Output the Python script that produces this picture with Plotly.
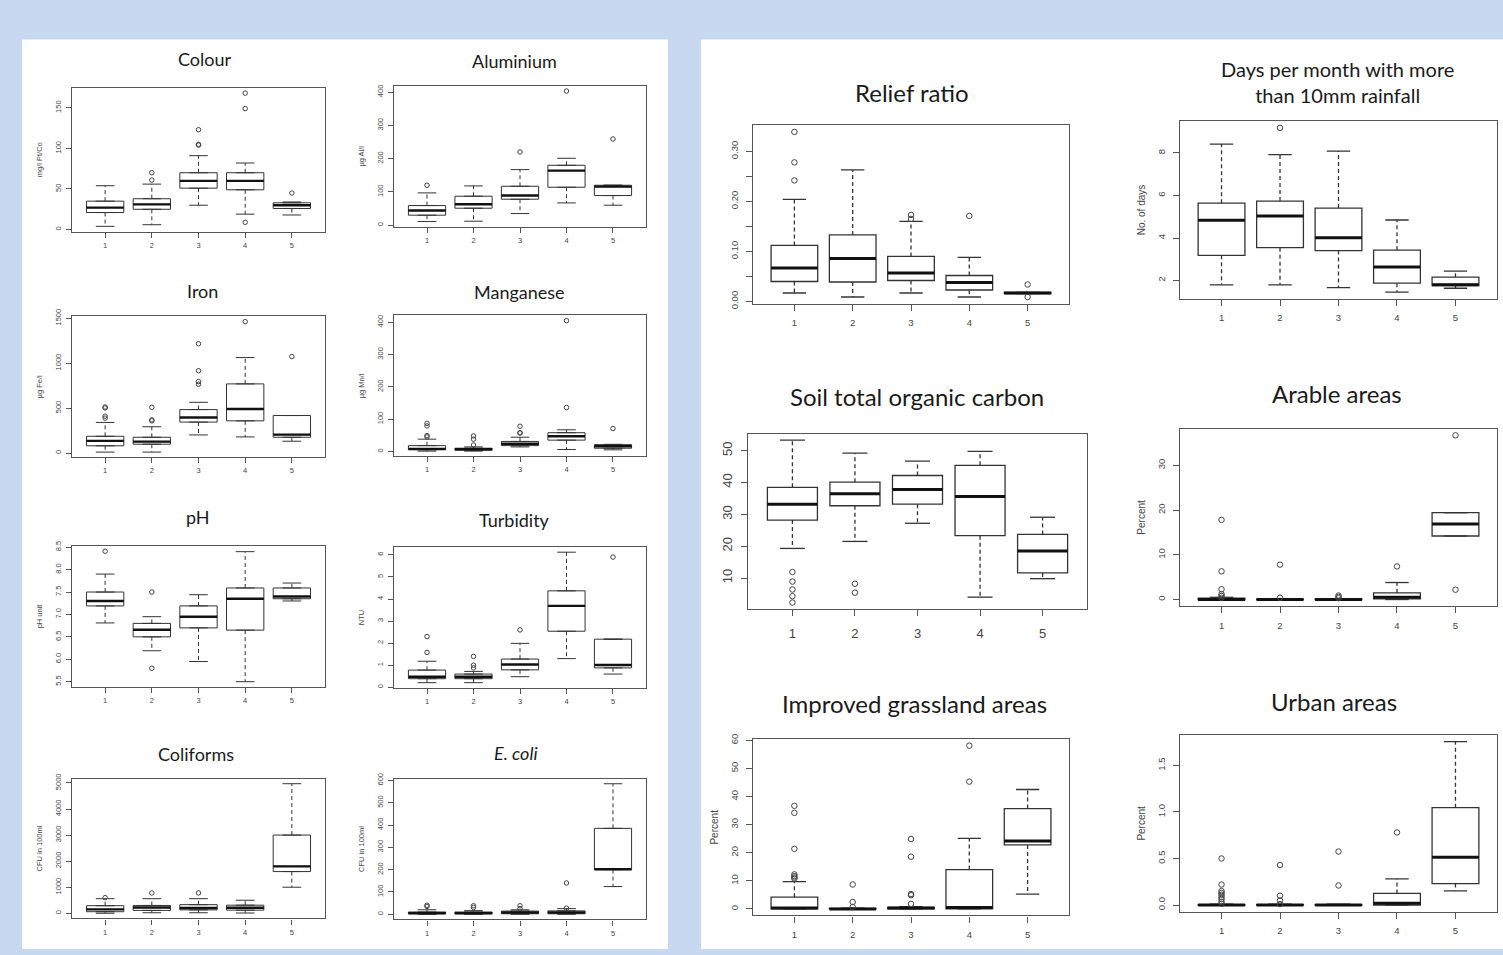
import plotly.graph_objects as go

W, H = 1503, 955
BG = "#c6d9f1"
groups = [1, 2, 3, 4, 5]

# ---------------- data ----------------
colour_lo  = [4, 6, 30, 19, 18]
colour_q1  = [21, 25, 51, 49, 26]
colour_med = [27, 31, 60, 60, 30]
colour_q3  = [35, 38, 70, 70, 33]
colour_hi  = [54, 56, 91, 82, 34]
colour_out = [[], [70, 61], [123, 105, 104], [168, 149, 9], [45]]
colour_ticks = [0, 50, 100, 150]

alu_lo  = [11, 12, 35, 67, 60]
alu_q1  = [30, 51, 78, 114, 89]
alu_med = [44, 63, 89, 164, 116]
alu_q3  = [59, 87, 117, 180, 120]
alu_hi  = [97, 118, 167, 201, 120]
alu_out = [[120], [], [220], [403], [259]]
alu_ticks = [0, 100, 200, 300, 400]

iron_lo  = [11, 11, 202, 180, 132]
iron_q1  = [81, 99, 345, 359, 176]
iron_med = [136, 128, 396, 491, 205]
iron_q3  = [187, 176, 484, 770, 418]
iron_hi  = [341, 293, 565, 1063, 418]
iron_out = [[513, 502, 411, 389], [510, 370, 359], [1217, 917, 796, 766], [1463], [1074]]
iron_ticks = [0, 500, 1000, 1500]

mn_lo  = [1, 1, 14, 6, 5]
mn_q1  = [5, 4, 18, 35, 10]
mn_med = [8, 7, 24, 47, 16]
mn_q3  = [18, 10, 31, 58, 21]
mn_hi  = [38, 14, 44, 67, 22]
mn_out = [[87, 79, 49, 45], [48, 38, 20], [78, 58, 57], [405, 136], [71]]
mn_ticks = [0, 100, 200, 300, 400]

ph_lo  = [6.81, 6.19, 5.95, 5.50, 7.30]
ph_q1  = [7.19, 6.50, 6.70, 6.65, 7.35]
ph_med = [7.30, 6.66, 6.95, 7.35, 7.40]
ph_q3  = [7.50, 6.80, 7.19, 7.59, 7.59]
ph_hi  = [7.90, 6.95, 7.44, 8.40, 7.70]
ph_out = [[8.41], [7.50, 5.80], [], [], []]
ph_ticks = [5.5, 6.0, 6.5, 7.0, 7.5, 8.0, 8.5]

turb_lo  = [0.21, 0.21, 0.48, 1.30, 0.60]
turb_q1  = [0.39, 0.39, 0.79, 2.54, 0.88]
turb_med = [0.48, 0.48, 1.03, 3.69, 1.01]
turb_q3  = [0.78, 0.60, 1.28, 4.37, 2.18]
turb_hi  = [1.18, 0.72, 1.99, 6.12, 2.18]
turb_out = [[2.30, 1.58], [1.40, 1.00, 0.88], [2.60], [], [5.90]]
turb_ticks = [0, 1, 2, 3, 4, 5, 6]

coli_lo  = [0, 20, 20, 10, 1000]
coli_q1  = [60, 110, 130, 120, 1600]
coli_med = [150, 220, 200, 210, 1800]
coli_q3  = [290, 300, 330, 310, 3000]
coli_hi  = [560, 560, 560, 500, 4970]
coli_out = [[600], [780], [780], [], []]
coli_ticks = [0, 1000, 2000, 3000, 4000, 5000]

ecoli_lo  = [0, 0, 0, 0, 124]
ecoli_q1  = [1, 1, 2, 2, 200]
ecoli_med = [5, 5, 8, 8, 202]
ecoli_q3  = [10, 10, 14, 15, 385]
ecoli_hi  = [20, 16, 20, 25, 585]
ecoli_out = [[40, 35], [38, 30], [38, 25], [140, 27], []]
ecoli_ticks = [0, 100, 200, 300, 400, 500, 600]

relief_lo  = [0.017, 0.009, 0.017, 0.009, 0.016]
relief_q1  = [0.040, 0.039, 0.042, 0.023, 0.016]
relief_med = [0.067, 0.086, 0.057, 0.038, 0.017]
relief_q3  = [0.112, 0.133, 0.090, 0.052, 0.018]
relief_hi  = [0.204, 0.263, 0.160, 0.088, 0.018]
relief_out = [[0.339, 0.278, 0.242], [], [0.173, 0.165], [0.171], [0.034, 0.009]]
relief_ticks = [0.00, 0.05, 0.10, 0.15, 0.20, 0.25, 0.30]
relief_ticktext = ["0.00", "", "0.10", "", "0.20", "", "0.30"]

days_lo  = [1.80, 1.80, 1.67, 1.46, 1.64]
days_q1  = [3.19, 3.55, 3.41, 1.88, 1.77]
days_med = [4.84, 5.04, 4.02, 2.64, 1.80]
days_q3  = [5.64, 5.74, 5.41, 3.43, 2.16]
days_hi  = [8.42, 7.92, 8.09, 4.85, 2.45]
days_out = [[], [9.18], [], [], []]
days_ticks = [2, 4, 6, 8]

soil_lo  = [19.3, 21.5, 27.2, 4.0, 9.8]
soil_q1  = [28.2, 32.7, 33.2, 23.3, 11.6]
soil_med = [33.2, 36.5, 37.8, 35.6, 18.5]
soil_q3  = [38.5, 40.1, 42.2, 45.4, 23.7]
soil_hi  = [53.3, 49.2, 46.7, 49.8, 29.1]
soil_out = [[11.9, 8.9, 6.4, 4.3, 2.3], [8.2, 5.4], [], [], []]
soil_ticks = [10, 20, 30, 40, 50]

arable_lo  = [0, 0, 0, 0, 14.2]
arable_q1  = [0, 0, 0, 0.15, 14.2]
arable_med = [0, 0, 0, 0.5, 16.9]
arable_q3  = [0.3, 0.1, 0.1, 1.5, 19.4]
arable_hi  = [0.5, 0.2, 0.2, 3.8, 19.4]
arable_out = [[17.8, 6.3, 2.3, 1.2, 0.8, 0.4], [7.8, 0.4], [0.9, 0.6, 0.3], [7.4], [36.7, 2.2]]
arable_ticks = [0, 10, 20, 30]

grass_lo  = [0, 0, 0, 0, 5.3]
grass_q1  = [0, 0, 0, 0.05, 22.8]
grass_med = [0.35, 0, 0.3, 0.5, 24.2]
grass_q3  = [4.2, 0.2, 0.6, 14.0, 35.7]
grass_hi  = [9.7, 0.3, 0.8, 25.1, 42.5]
grass_out = [[36.7, 34.2, 21.4, 12.3, 11.7, 11.2, 10.8], [8.7, 2.5, 0.7], [24.9, 18.6, 5.3, 4.9, 1.8], [58.1, 45.3], []]
grass_ticks = [0, 10, 20, 30, 40, 50, 60]

urban_lo  = [0, 0, 0, 0, 0.152]
urban_q1  = [0, 0, 0, 0, 0.23]
urban_med = [0, 0, 0, 0.018, 0.514]
urban_q3  = [0.005, 0.005, 0.005, 0.125, 1.046]
urban_hi  = [0.01, 0.01, 0.01, 0.28, 1.755]
urban_out = [[0.50, 0.22, 0.15, 0.13, 0.11, 0.085, 0.064, 0.035, 0.014], [0.43, 0.10, 0.05, 0.01], [0.575, 0.21], [0.78], []]
urban_ticks = [0.0, 0.5, 1.0, 1.5]

DATA = {
    "colour": (colour_lo, colour_q1, colour_med, colour_q3, colour_hi, colour_out, colour_ticks, None),
    "alu": (alu_lo, alu_q1, alu_med, alu_q3, alu_hi, alu_out, alu_ticks, None),
    "iron": (iron_lo, iron_q1, iron_med, iron_q3, iron_hi, iron_out, iron_ticks, None),
    "mn": (mn_lo, mn_q1, mn_med, mn_q3, mn_hi, mn_out, mn_ticks, None),
    "ph": (ph_lo, ph_q1, ph_med, ph_q3, ph_hi, ph_out, ph_ticks, [f"{v:.1f}" for v in ph_ticks]),
    "turb": (turb_lo, turb_q1, turb_med, turb_q3, turb_hi, turb_out, turb_ticks, None),
    "coli": (coli_lo, coli_q1, coli_med, coli_q3, coli_hi, coli_out, coli_ticks, None),
    "ecoli": (ecoli_lo, ecoli_q1, ecoli_med, ecoli_q3, ecoli_hi, ecoli_out, ecoli_ticks, None),
    "relief": (relief_lo, relief_q1, relief_med, relief_q3, relief_hi, relief_out, relief_ticks, relief_ticktext),
    "days": (days_lo, days_q1, days_med, days_q3, days_hi, days_out, days_ticks, None),
    "soil": (soil_lo, soil_q1, soil_med, soil_q3, soil_hi, soil_out, soil_ticks, None),
    "arable": (arable_lo, arable_q1, arable_med, arable_q3, arable_hi, arable_out, arable_ticks, None),
    "grass": (grass_lo, grass_q1, grass_med, grass_q3, grass_hi, grass_out, grass_ticks, None),
    "urban": (urban_lo, urban_q1, urban_med, urban_q3, urban_hi, urban_out, urban_ticks, [f"{v:.1f}" for v in urban_ticks]),
}

# ---------------- layout specs (pixel frames) ----------------
charts = [
    dict(key="colour", title="Colour", ytitle="mg/l Pt/Co", frame=(72, 325, 81, 227), tpos=(205, 52), tsize=18, side="L"),
    dict(key="alu", title="Aluminium", ytitle="µg Al/l", frame=(394, 646, 79, 222), tpos=(514, 54), tsize=18, side="L"),
    dict(key="iron", title="Iron", ytitle="µg Fe/l", frame=(72, 325, 313, 456), tpos=(202, 287), tsize=18, side="L"),
    dict(key="mn", title="Manganese", ytitle="µg Mn/l", frame=(394, 646, 312, 455), tpos=(519, 288), tsize=18, side="L"),
    dict(key="ph", title="pH", ytitle="pH unit", frame=(72, 325, 546, 689), tpos=(198, 517), tsize=18, side="L"),
    dict(key="turb", title="Turbidity", ytitle="NTU", frame=(394, 646, 547, 690), tpos=(514, 520), tsize=18, side="L"),
    dict(key="coli", title="Coliforms", ytitle="CFU in 100ml", frame=(72, 325, 782, 924), tpos=(196, 757), tsize=18, side="L"),
    dict(key="ecoli", title="<i>E. coli</i>", ytitle="CFU in 100ml", frame=(394, 646, 782, 925), tpos=(516, 756), tsize=18, side="L"),
    dict(key="relief", title="Relief ratio", ytitle="", frame=(753, 1069, 119, 300), tpos=(912, 86), tsize=24, side="R"),
    dict(key="days", title="Days per month with more<br>than 10mm rainfall", ytitle="No. of days", frame=(1180, 1497, 115, 295), tpos=(1337, 75), tsize=20, side="R"),
    dict(key="soil", title="Soil total organic carbon", ytitle="", frame=(748, 1087, 432, 610), tpos=(917, 394), tsize=24, side="S"),
    dict(key="arable", title="Arable areas", ytitle="Percent", frame=(1180, 1497, 427, 607), tpos=(1337, 391), tsize=24, side="R"),
    dict(key="grass", title="Improved grassland areas", ytitle="Percent", frame=(753, 1069, 742, 921), tpos=(914, 706), tsize=24, side="R"),
    dict(key="urban", title="Urban areas", ytitle="Percent", frame=(1180, 1497, 738, 917), tpos=(1334, 704), tsize=24, side="R"),
]

BOXW = 0.8
CAPW = 0.4
LINE = "#333333"
AXC = "#555555"
TICKFONT = "Liberation Sans, Arial, sans-serif"
TITLEFONT = "Lato, Open Sans, sans-serif"

fig = go.Figure()
annotations = []
layout_axes = {}

for i, ch in enumerate(charts, start=1):
    lo, q1, med, q3, hi, out, ticks, ticktext = DATA[ch["key"]]
    xa = "x" if i == 1 else f"x{i}"
    ya = "y" if i == 1 else f"y{i}"
    side = ch["side"]
    lw = 1.0 if side == "L" else 1.3
    mw = 2.4 if side == "L" else 3.0
    msize = 4.5 if side == "L" else 5.5
    tfs = 7.5 if side == "L" else (13 if side == "S" else 9.5)

    wx, wy, cx, cy, mx, my = [], [], [], [], [], []
    for g, a, b, m, c, d in zip(groups, lo, q1, med, q3, hi):
        wx += [g, g, None, g, g, None]
        wy += [c, d, None, b, a, None]
        cx += [g - CAPW / 2, g + CAPW / 2, None, g - CAPW / 2, g + CAPW / 2, None]
        cy += [d, d, None, a, a, None]
        mx += [g - BOXW / 2, g + BOXW / 2, None]
        my += [m, m, None]
    fig.add_trace(go.Scatter(x=wx, y=wy, mode="lines", line=dict(color=LINE, width=lw, dash="4px,3px"),
                             xaxis=xa, yaxis=ya, showlegend=False, hoverinfo="skip"))
    fig.add_trace(go.Box(x=groups, q1=q1, median=med, q3=q3, lowerfence=q1, upperfence=q3,
                         width=BOXW, fillcolor="white", line=dict(color=LINE, width=lw),
                         boxpoints=False, xaxis=xa, yaxis=ya, showlegend=False, hoverinfo="skip"))
    fig.add_trace(go.Scatter(x=cx, y=cy, mode="lines", line=dict(color=LINE, width=lw),
                             xaxis=xa, yaxis=ya, showlegend=False, hoverinfo="skip"))
    fig.add_trace(go.Scatter(x=mx, y=my, mode="lines", line=dict(color="#111111", width=mw),
                             xaxis=xa, yaxis=ya, showlegend=False, hoverinfo="skip"))
    ox = [g for g, o in zip(groups, out) for _ in o]
    oy = [v for o in out for v in o]
    fig.add_trace(go.Scatter(x=ox, y=oy, mode="markers",
                             marker=dict(symbol="circle-open", size=msize, color="#444444", line=dict(width=1)),
                             xaxis=xa, yaxis=ya, showlegend=False, hoverinfo="skip"))

    allv = lo + hi + oy
    vmin, vmax = min(allv), max(allv)
    pad = 0.04 * (vmax - vmin)

    x0, x1, y0, y1 = ch["frame"]
    xkey = "xaxis" if i == 1 else f"xaxis{i}"
    ykey = "yaxis" if i == 1 else f"yaxis{i}"
    layout_axes[xkey] = dict(
        domain=[x0 / W, x1 / W], range=[0.29, 5.71], anchor=ya,
        tickmode="array", tickvals=groups, ticktext=[str(g) for g in groups],
        ticks="outside", ticklen=5 if side == "L" else 6, tickcolor=AXC, tickwidth=1,
        showline=True, mirror=True, linecolor=AXC, linewidth=1.2,
        showgrid=False, zeroline=False, fixedrange=True,
        tickfont=dict(family=TICKFONT, size=tfs, color="#444444"),
        ticklabelstandoff=1 if side == "L" else (6 if side == "S" else 4),
    )
    layout_axes[ykey] = dict(
        domain=[1 - y1 / H, 1 - y0 / H], range=[vmin - pad, vmax + pad], anchor=xa,
        tickmode="array", tickvals=ticks,
        ticktext=ticktext if ticktext is not None else [str(t) for t in ticks],
        tickangle=-90,
        ticks="outside", ticklen=5 if side == "L" else 6, tickcolor=AXC, tickwidth=1,
        showline=True, mirror=True, linecolor=AXC, linewidth=1.2,
        showgrid=False, zeroline=False, fixedrange=True,
        tickfont=dict(family=TICKFONT, size=tfs, color="#444444"),
        ticklabelstandoff=2 if side == "L" else 4,
        title=dict(text=ch["ytitle"], standoff=10 if side == "L" else 8,
                   font=dict(family=TICKFONT, size=7.5 if side == "L" else 10, color="#444444")),
    )
    tx, ty = ch["tpos"]
    annotations.append(dict(text=ch["title"], x=tx / W, y=1 - ty / H, xref="paper", yref="paper",
                            xanchor="center", yanchor="middle", showarrow=False,
                            font=dict(family=TITLEFONT, size=ch["tsize"], color="#1a1a1a")))

shapes = [
    dict(type="rect", xref="paper", yref="paper", x0=22 / W, x1=668 / W, y0=0, y1=1 - 32 / H,
         fillcolor="white", line=dict(width=0), layer="below"),
    dict(type="rect", xref="paper", yref="paper", x0=701 / W, x1=1, y0=0, y1=1 - 32 / H,
         fillcolor="white", line=dict(width=0), layer="below"),
]

fig.update_layout(
    width=W, height=H, autosize=False,
    margin=dict(l=0, r=0, t=0, b=0),
    paper_bgcolor=BG, plot_bgcolor="white",
    showlegend=False, annotations=annotations, shapes=shapes,
    **layout_axes,
)

fig.write_html(
    "out.html",
    config={"displayModeBar": False},
    post_script="document.body.style.margin='0';document.body.style.padding='0';"
                "document.body.style.overflow='hidden';document.body.style.background='" + BG + "';",
)
